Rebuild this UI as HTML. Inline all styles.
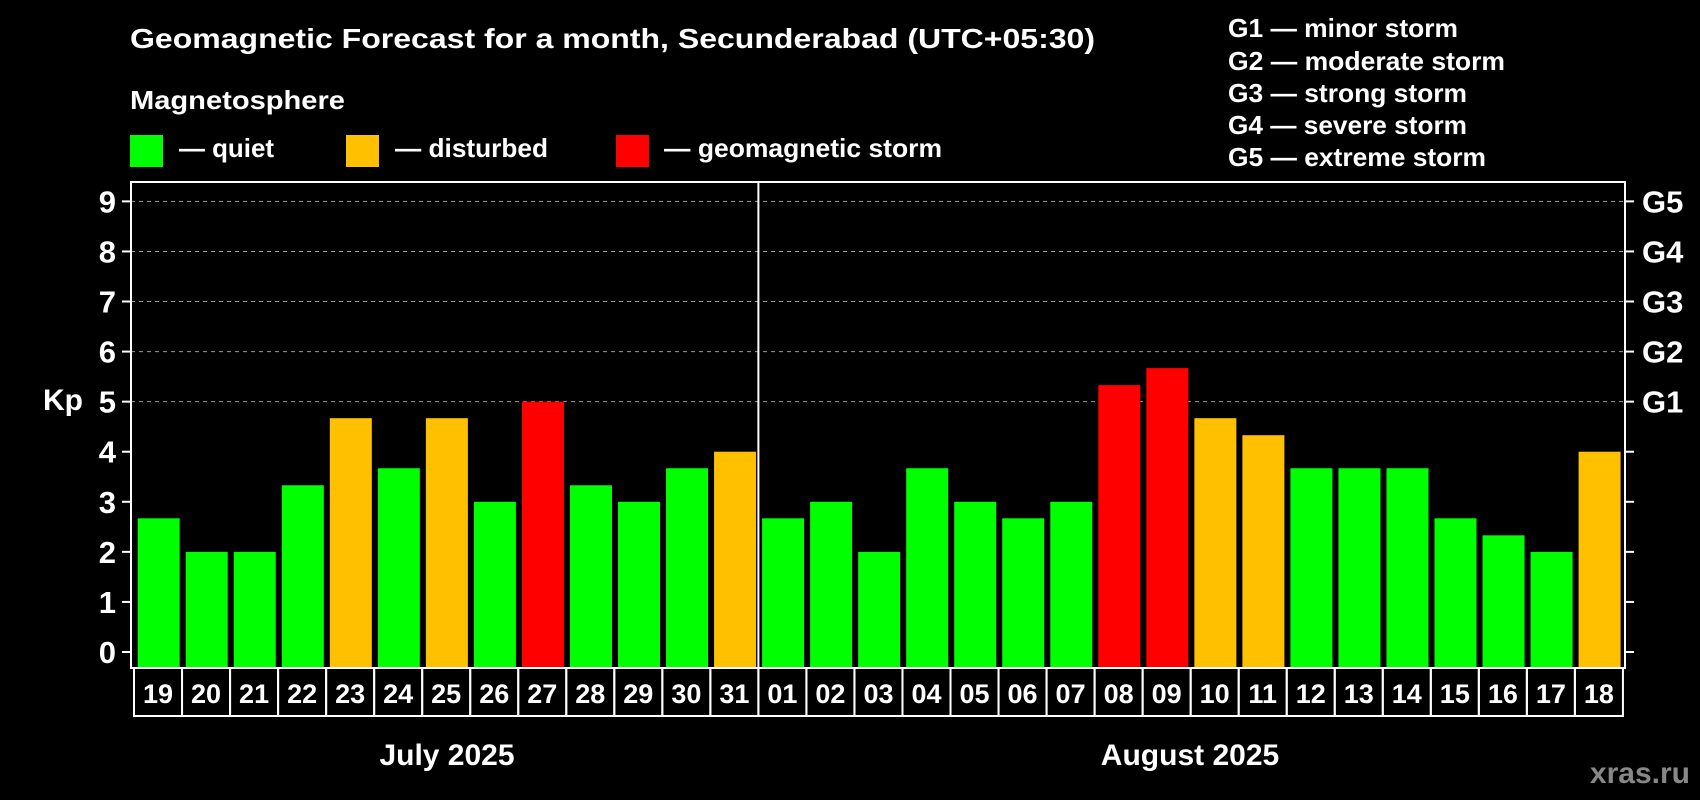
<!DOCTYPE html>
<html><head><meta charset="utf-8"><style>
body{margin:0;background:#000;width:1700px;height:800px;overflow:hidden}
svg{display:block}
text{font-family:"Liberation Sans",Arial,sans-serif;font-weight:bold;fill:#fff}
</style></head><body>
<svg id="chart" width="1700" height="800">
<text x="130" y="48" font-size="28" textLength="965" lengthAdjust="spacingAndGlyphs">Geomagnetic Forecast for a month, Secunderabad (UTC+05:30)</text>
<text x="130" y="109" font-size="26" textLength="215" lengthAdjust="spacingAndGlyphs">Magnetosphere</text>
<g><rect x="130" y="135" width="33" height="32" fill="#00ff00"/><text x="179" y="157" font-size="26" textLength="95" lengthAdjust="spacingAndGlyphs">— quiet</text></g>
<g><rect x="346" y="135" width="33" height="32" fill="#ffc000"/><text x="395" y="157" font-size="26" textLength="153" lengthAdjust="spacingAndGlyphs">— disturbed</text></g>
<g><rect x="616" y="135" width="33" height="32" fill="#ff0000"/><text x="664" y="157" font-size="26" textLength="278" lengthAdjust="spacingAndGlyphs">— geomagnetic storm</text></g>
<g font-size="26">
<text x="1228" y="37" textLength="230" lengthAdjust="spacingAndGlyphs">G1 — minor storm</text>
<text x="1228" y="70" textLength="277" lengthAdjust="spacingAndGlyphs">G2 — moderate storm</text>
<text x="1228" y="102" textLength="239" lengthAdjust="spacingAndGlyphs">G3 — strong storm</text>
<text x="1228" y="134" textLength="239" lengthAdjust="spacingAndGlyphs">G4 — severe storm</text>
<text x="1228" y="166" textLength="258" lengthAdjust="spacingAndGlyphs">G5 — extreme storm</text>
</g>
<text x="43" y="410" font-size="30">Kp</text>
<text x="447" y="765" font-size="30" text-anchor="middle">July 2025</text>
<text x="1190" y="765" font-size="30" text-anchor="middle">August 2025</text>
<text x="1690" y="783" font-size="30" text-anchor="end" style="fill:#888">xras.ru</text>
<g id="plot"></g>
</svg>
<script>
const days=["19","20","21","22","23","24","25","26","27","28","29","30","31","01","02","03","04","05","06","07","08","09","10","11","12","13","14","15","16","17","18"];
const kp=[2.67,2,2,3.33,4.67,3.67,4.67,3,5,3.33,3,3.67,4,2.67,3,2,3.67,3,2.67,3,5.33,5.67,4.67,4.33,3.67,3.67,3.67,2.67,2.33,2,4];
const levels=["quiet","quiet","quiet","quiet","disturbed","quiet","disturbed","quiet","storm","quiet","quiet","quiet","disturbed","quiet","quiet","quiet","quiet","quiet","quiet","quiet","storm","storm","disturbed","disturbed","quiet","quiet","quiet","quiet","quiet","quiet","disturbed"];
const yTicks=[0,1,2,3,4,5,6,7,8,9];
const gLabels=["","","","","","G1","G2","G3","G4","G5"];
const colors={quiet:"#00ff00",disturbed:"#ffc000",storm:"#ff0000"};
const NS="http://www.w3.org/2000/svg";
const L=131,R=1625,T=182,B=668,cellL=134,cellW=48.03;
const y=v=>652-v*50.07;
const x=i=>cellL+i*cellW;
const g=document.getElementById('plot');
function mk(tag,a){const e=document.createElementNS(NS,tag);for(const k in a)e.setAttribute(k,a[k]);g.appendChild(e);return e;}
yTicks.forEach((t,i)=>{
 const yy=y(t);
 if(t>=5){const gl=mk('line',{x1:L,x2:R,y1:yy,y2:yy,stroke:'#999','stroke-dasharray':'4,4','stroke-width':1});
 
 }
 const tl=mk('line',{x1:L-9,x2:L,y1:yy,y2:yy,stroke:'#fff','stroke-width':2});
 
 
 const tr=mk('line',{x1:R,x2:R+9,y1:yy,y2:yy,stroke:'#fff','stroke-width':2});
 
 
 const lb=mk('text',{x:116,y:yy+11,'font-size':31,'text-anchor':'end'});lb.textContent=t;
 
 
 if(gLabels[i]){const gt=mk('text',{x:1642,y:yy+11,'font-size':31});gt.textContent=gLabels[i];
 
 }
});
kp.forEach((v,i)=>{
 const b=mk('rect',{x:x(i)+3.7,y:y(v),width:42,height:B-y(v),fill:colors[levels[i]]});
 
 
 const c=mk('rect',{x:x(i),y:B,width:cellW,height:48,fill:'none',stroke:'#fff','stroke-width':2});
 
 
 const t=mk('text',{x:x(i)+cellW/2,y:B+35,'font-size':27,'text-anchor':'middle'});t.textContent=days[i];
 
 
});
const box=mk('rect',{x:L,y:T,width:R-L,height:B-T,fill:'none',stroke:'#fff','stroke-width':2});


const sep=mk('line',{x1:x(13),x2:x(13),y1:T,y2:B,stroke:'#fff','stroke-width':2});


</script>
</body></html>
